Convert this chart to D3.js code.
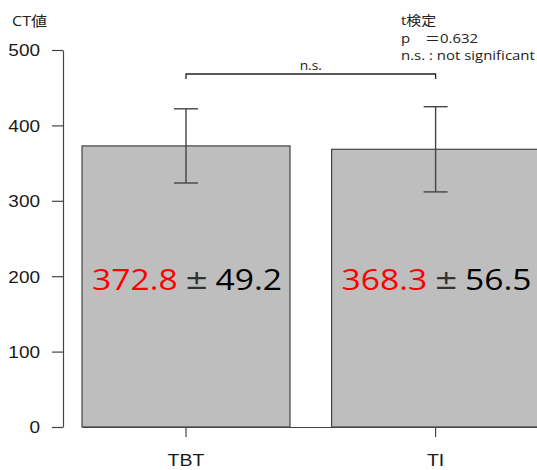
<!DOCTYPE html>
<html>
<head>
<meta charset="utf-8">
<script src="https://cdn.jsdelivr.net/npm/d3@7"></script>
<style>
  body { margin: 0; background: #fff; }
  svg { display: block; }
</style>
</head>
<body>
<div id="chart"></div>
<script>
const groups = ['TBT', 'TI']
const means = [372.8, 368.3]
const sds = [49.2, 56.5]
const yTicks = [0, 100, 200, 300, 400, 500]
const testLines = ['t検定', 'p　＝0.632', 'n.s. : not significant']
const sigLabel = 'n.s.'
const yTitle = 'CT値'

const width = 537
const height = 470
const axisColor = '#444'
const sx = 1.15 // the original text is a bit stretched sideways

const svg = d3.select('#chart').append('svg').attr('width', width).attr('height', height)

// scales
const y = d3.scaleLinear().domain([0, 500]).range([427, 50])
const x = d3.scaleBand().domain(groups).range([82, 82 + 208 * 2.2]).paddingInner(0.2 / 1.2).paddingOuter(0)
const cx = (d) => x(d) + x.bandwidth() / 2

// bars
svg.selectAll('rect.bar')
  .data(groups)
  .enter()
  .append('rect')
  .attr('class', 'bar')
  .attr('x', (d) => x(d))
  .attr('y', (d, i) => y(means[i]))
  .attr('width', x.bandwidth())
  .attr('height', (d, i) => y(0) - y(means[i]))
  .attr('fill', '#bebebe')
  .attr('stroke', axisColor)
  .attr('stroke-width', 1.2)

// error bars
const eb = svg.selectAll('g.err').data(groups).enter().append('g').attr('class', 'err')
  .attr('stroke', axisColor).attr('stroke-width', 1.4)
eb.append('line')
  .attr('x1', cx)
  .attr('x2', cx)
  .attr('y1', (d, i) => y(means[i] + sds[i]))
  .attr('y2', (d, i) => y(means[i] - sds[i]))
eb.selectAll('line.cap')
  .data((d, i) => [[d, means[i] + sds[i]], [d, means[i] - sds[i]]])
  .enter()
  .append('line')
  .attr('class', 'cap')
  .attr('x1', (d) => cx(d[0]) - 12)
  .attr('x2', (d) => cx(d[0]) + 12)
  .attr('y1', (d) => y(d[1]))
  .attr('y2', (d) => y(d[1]))

// y axis
const yAxis = svg.append('g')
  .attr('transform', 'translate(63,0)')
  .call(d3.axisLeft(y).tickValues(yTicks).tickSize(11).tickSizeOuter(0))
yAxis.select('.domain').attr('stroke', axisColor).attr('stroke-width', 1.2)
yAxis.selectAll('.tick line').attr('stroke', axisColor).attr('stroke-width', 1.2)
yAxis.selectAll('.tick text')
  .attr('x', -23 / sx)
  .attr('transform', `scale(${sx},1)`)
  .attr('font-family', 'Liberation Sans, Arial, sans-serif')
  .attr('font-size', 16.5)
  .attr('fill', '#1a1a1a')
  .attr('dy', '0.36em')

// x axis
const xAxis = svg.append('g')
  .attr('transform', `translate(0,${y(0)})`)
  .call(d3.axisBottom(x).tickSize(10).tickSizeOuter(0).tickPadding(17))
xAxis.select('.domain').attr('stroke', axisColor).attr('stroke-width', 1.2)
xAxis.selectAll('.tick line').attr('stroke', axisColor).attr('stroke-width', 1.2)
xAxis.selectAll('.tick text')
  .attr('transform', `scale(${sx},1)`)
  .attr('font-family', 'Liberation Sans, Arial, sans-serif')
  .attr('font-size', 17)
  .attr('fill', '#1a1a1a')

// y title
svg.append('text')
  .attr('transform', `translate(12,26) scale(${sx},1)`)
  .attr('font-family', 'Open Sans, Noto Sans CJK JP, sans-serif')
  .attr('font-size', 14)
  .attr('fill', '#222')
  .text(yTitle)

// value labels inside bars
const lab = svg.selectAll('text.val')
  .data(groups)
  .enter()
  .append('text')
  .attr('class', 'val')
  .attr('transform', (d) => `translate(${cx(d) + 1},290) scale(1.12,1)`)
  .attr('text-anchor', 'middle')
  .attr('font-family', 'Open Sans, sans-serif')
  .attr('font-size', 30)
lab.append('tspan').attr('fill', '#ff0000').text((d, i) => means[i].toFixed(1))
lab.append('tspan')
  .attr('fill', '#333')
  .attr('font-family', 'DejaVu Sans, sans-serif')
  .attr('font-size', 26)
  .attr('dx', 6)
  .attr('dy', -1)
  .text('±')
lab.append('tspan').attr('fill', '#000').attr('dx', 6).attr('dy', 1).text((d, i) => sds[i].toFixed(1))

// significance bracket
const bx1 = cx(groups[0])
const bx2 = cx(groups[1])
const by = 74
svg.append('path')
  .attr('d', `M${bx1},${by + 5}V${by}H${bx2}V${by + 5}`)
  .attr('fill', 'none')
  .attr('stroke', '#222')
  .attr('stroke-width', 1.3)
svg.append('text')
  .attr('transform', `translate(${(bx1 + bx2) / 2},${by - 4}) scale(${sx},1)`)
  .attr('text-anchor', 'middle')
  .attr('font-family', 'Open Sans, sans-serif')
  .attr('font-size', 12)
  .attr('fill', '#222')
  .text(sigLabel)

// test annotation
svg.selectAll('text.note')
  .data(testLines)
  .enter()
  .append('text')
  .attr('class', 'note')
  .attr('transform', (d, i) => `translate(401,${25 + i * 17.5}) scale(${sx},1)`)
  .attr('font-family', 'Open Sans, Noto Sans CJK JP, sans-serif')
  .attr('font-size', 13)
  .attr('fill', '#222')
  .text((d) => d)
</script>
</body>
</html>
